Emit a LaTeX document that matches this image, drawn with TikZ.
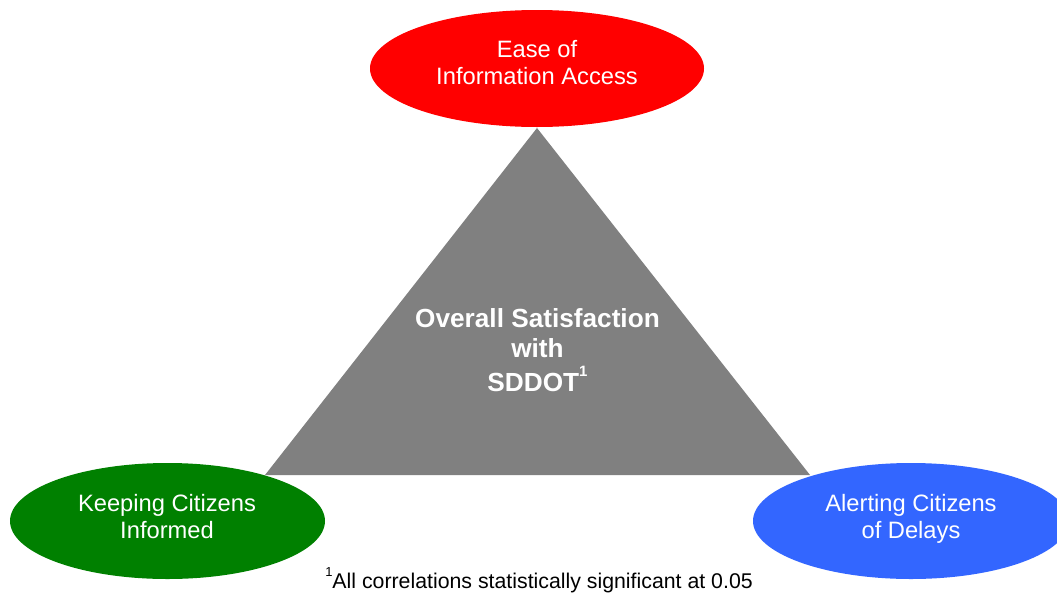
\documentclass[tikz,border=0pt]{standalone}
\usepackage{fontspec}
\setmainfont{Liberation Sans}
\usetikzlibrary{shapes.geometric}
\definecolor{easered}{HTML}{FF0000}
\definecolor{keepgreen}{HTML}{008000}
\definecolor{alertblue}{HTML}{3366FF}
\definecolor{coregray}{HTML}{808080}
\newcommand{\supone}[1]{\raisebox{0.55em}{\fontsize{#1}{#1}\selectfont 1}}
\tikzset{
  bubble/.style={ellipse, draw=none, inner sep=0pt},
  bubbletext/.style={anchor=base, inner sep=0pt, text=white,
    font=\fontsize{23.7}{27.5}\selectfont},
  coretext/.style={anchor=base, inner sep=0pt, text=white,
    font=\fontsize{26.2}{30.5}\selectfont\bfseries},
  notetext/.style={anchor=base, inner sep=0pt, text=black,
    font=\fontsize{21.3}{25}\selectfont}
}
\begin{document}
\begin{tikzpicture}[x=1pt, y=-1pt]
  \useasboundingbox (0,0) rectangle (1057,592);
  \clip (0,0) rectangle (1057,592);
  \fill[white] (0,0) rectangle (1057,592);

  % central triangle
  \coordinate (apex) at (537,128);
  \coordinate (baseL) at (265,475);
  \coordinate (baseR) at (810,475);
  \fill[coregray] (apex) -- (baseL) -- (baseR) -- cycle;
  \node[coretext] (core) at (537.5,327)
    {\begin{tabular}[t]{@{}c@{}}Overall Satisfaction\\with\\SDDOT\supone{15}\end{tabular}};

  % three driver bubbles
  \node[bubble, fill=easered, minimum width=334pt, minimum height=117pt] (ease) at (537,68.5) {};
  \node[bubbletext] (easet) at (537,57)
    {\begin{tabular}[t]{@{}c@{}}Ease of\\Information Access\end{tabular}};

  \node[bubble, fill=keepgreen, minimum width=315pt, minimum height=116pt] (keep) at (167.5,521) {};
  \node[bubbletext] (keept) at (167,511)
    {\begin{tabular}[t]{@{}c@{}}Keeping Citizens\\Informed\end{tabular}};

  \node[bubble, fill=alertblue, minimum width=316pt, minimum height=116pt] (alert) at (911,521) {};
  \node[bubbletext] (alertt) at (911,511)
    {\begin{tabular}[t]{@{}c@{}}Alerting Citizens\\of Delays\end{tabular}};

  % footnote
  \node[notetext] (note) at (539,588)
    {\supone{13}All correlations statistically significant at 0.05};
\end{tikzpicture}
\end{document}
